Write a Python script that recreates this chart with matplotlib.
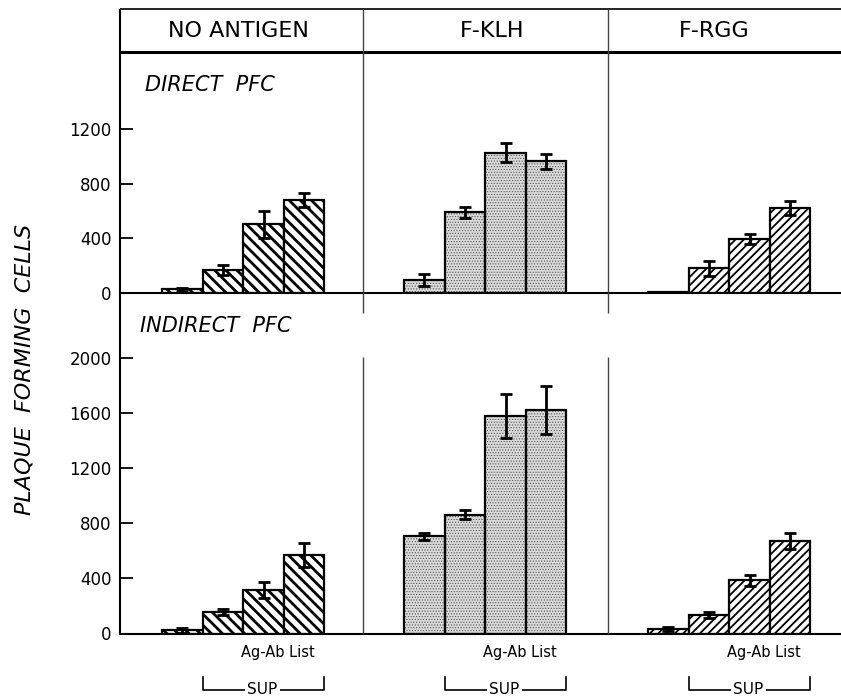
import matplotlib
matplotlib.use("Agg")
import matplotlib.pyplot as plt
from matplotlib.lines import Line2D
from matplotlib import transforms
import numpy as np

# ---------------- data ----------------
columns = ["NO ANTIGEN", "F-KLH", "F-RGG"]
groups = ["1", "2", "3", "4"]

direct_no_antigen = [25, 165, 500, 680]
direct_no_antigen_err = [10, 35, 100, 50]
direct_klh = [95, 590, 1025, 965]
direct_klh_err = [45, 40, 70, 55]
direct_rgg = [5, 180, 395, 620]
direct_rgg_err = [3, 55, 38, 50]

indirect_no_antigen = [25, 155, 315, 570]
indirect_no_antigen_err = [18, 20, 60, 85]
indirect_klh = [705, 862, 1575, 1620]
indirect_klh_err = [25, 30, 160, 175]
indirect_rgg = [30, 133, 385, 670]
indirect_rgg_err = [15, 20, 40, 60]

direct_ticks = [0, 400, 800, 1200]
indirect_ticks = [0, 400, 800, 1200, 1600, 2000]

# ---------------- layout helpers ----------------
W, H = 841, 696
fig = plt.figure(figsize=(W / 100, H / 100), dpi=100)

def fx(px):
    return px / W

def fy(py):
    return 1 - py / H

def fline(xs, ys, lw=1.2, color="black"):
    fig.add_artist(Line2D([fx(x) for x in xs], [fy(y) for y in ys],
                          transform=fig.transFigure, color=color, lw=lw,
                          solid_capstyle="butt"))

cols_px = [(120, 363), (363, 608), (608, 841)]
bar_left_px = [162, 404, 648]
unit_px = 40.6

top_zero, top_top, top_scale = 292.7, 52, 0.13642
bot_zero, bot_top, bot_scale = 633.5, 313, 0.1379

styles = [
    dict(hatch="\\\\\\", face="white", hlw=2.0),
    dict(hatch="......", face="#d9d9d9", hlw=0.5),
    dict(hatch="////", face="white", hlw=1.3),
]

direct_vals = [direct_no_antigen, direct_klh, direct_rgg]
direct_errs = [direct_no_antigen_err, direct_klh_err, direct_rgg_err]
indirect_vals = [indirect_no_antigen, indirect_klh, indirect_rgg]
indirect_errs = [indirect_no_antigen_err, indirect_klh_err, indirect_rgg_err]

x = np.arange(len(groups))


def draw_bars(ax, vals, errs, st):
    if st["hatch"].startswith("."):
        bars = ax.bar(x, vals, width=1.0, color=st["face"], edgecolor="#555555",
                      hatch=st["hatch"], lw=0, zorder=2)
        ax.bar(x, vals, width=1.0, fill=False, edgecolor="black", lw=1.6, zorder=3)
    else:
        bars = ax.bar(x, vals, width=1.0, color=st["face"], edgecolor="black",
                      hatch=st["hatch"], lw=1.6, zorder=2)
    for b in bars:
        if hasattr(b, "set_hatch_linewidth"):
            b.set_hatch_linewidth(st["hlw"])
    ax.errorbar(x, vals, yerr=errs, fmt="none", ecolor="black", elinewidth=2.0,
                capsize=4.5, capthick=2.0, zorder=4)


for i, (l, r) in enumerate(cols_px):
    left = -0.5 - (bar_left_px[i] - l) / unit_px
    right = left + (r - l) / unit_px
    for row in range(2):
        if row == 0:
            zero, top, scale = top_zero, top_top, top_scale
            vals, errs, ticks = direct_vals[i], direct_errs[i], direct_ticks
        else:
            zero, top, scale = bot_zero, bot_top, bot_scale
            vals, errs, ticks = indirect_vals[i], indirect_errs[i], indirect_ticks
        ax = fig.add_axes([fx(l), fy(zero), fx(r) - fx(l), (zero - top) / H])
        ax.set_facecolor("none")
        ax.set_xlim(left, right)
        ax.set_ylim(0, (zero - top) / scale)
        for s in ["top", "right", "left"]:
            ax.spines[s].set_visible(False)
        ax.spines["bottom"].set_linewidth(1.5)
        ax.set_xticks([])
        if i == 0:
            ax.set_yticks(ticks)
            ax.set_yticklabels([str(t) for t in ticks])
            ax.tick_params(axis="y", direction="in", length=9.5, width=1.3,
                           pad=6, labelsize=12)
        else:
            ax.set_yticks([])
        draw_bars(ax, vals, errs, styles[i])

        if row == 1:
            trans = transforms.blended_transform_factory(ax.transData, fig.transFigure)
            ax.text(2.36, fy(653), "Ag-Ab List", transform=trans, ha="center",
                    va="center", fontsize=10.5, clip_on=False)
            # SUP bracket spanning bars 2-4
            bx0, bx1 = 0.5, 3.5
            ax.add_artist(Line2D([bx0, bx0, bx1, bx1],
                                 [fy(677), fy(690), fy(690), fy(677)],
                                 transform=trans, color="black", lw=1.2,
                                 clip_on=False))
            ax.text(1.97, fy(690), "SUP", transform=trans, ha="center",
                    va="center", fontsize=11, clip_on=False,
                    bbox=dict(facecolor="white", edgecolor="none", pad=1.5))

# ---------------- frame lines ----------------
fline([120, 841], [9, 9], lw=1.2)
fline([120, 841], [52, 52], lw=2.2)
fline([120, 120], [9, 634], lw=1.5)
for sx in [363, 608]:
    fline([sx, sx], [9, 313], lw=1.0, color="#444444")
    fline([sx, sx], [357, 634], lw=1.0, color="#444444")

# ---------------- header texts ----------------
header_x = [238, 492, 714]
for name, hx in zip(columns, header_x):
    fig.text(fx(hx), fy(31), name, ha="center", va="center", fontsize=16)

fig.text(fx(145), fy(85), "DIRECT  PFC", ha="left", va="center",
         fontsize=15, style="italic")
fig.text(fx(140), fy(326), "INDIRECT  PFC", ha="left", va="center",
         fontsize=15, style="italic")

fig.text(fx(25), fy(369), "PLAQUE  FORMING  CELLS", rotation=90, ha="center",
         va="center", fontsize=16, style="italic")

fig.savefig("out.png", dpi=100)
